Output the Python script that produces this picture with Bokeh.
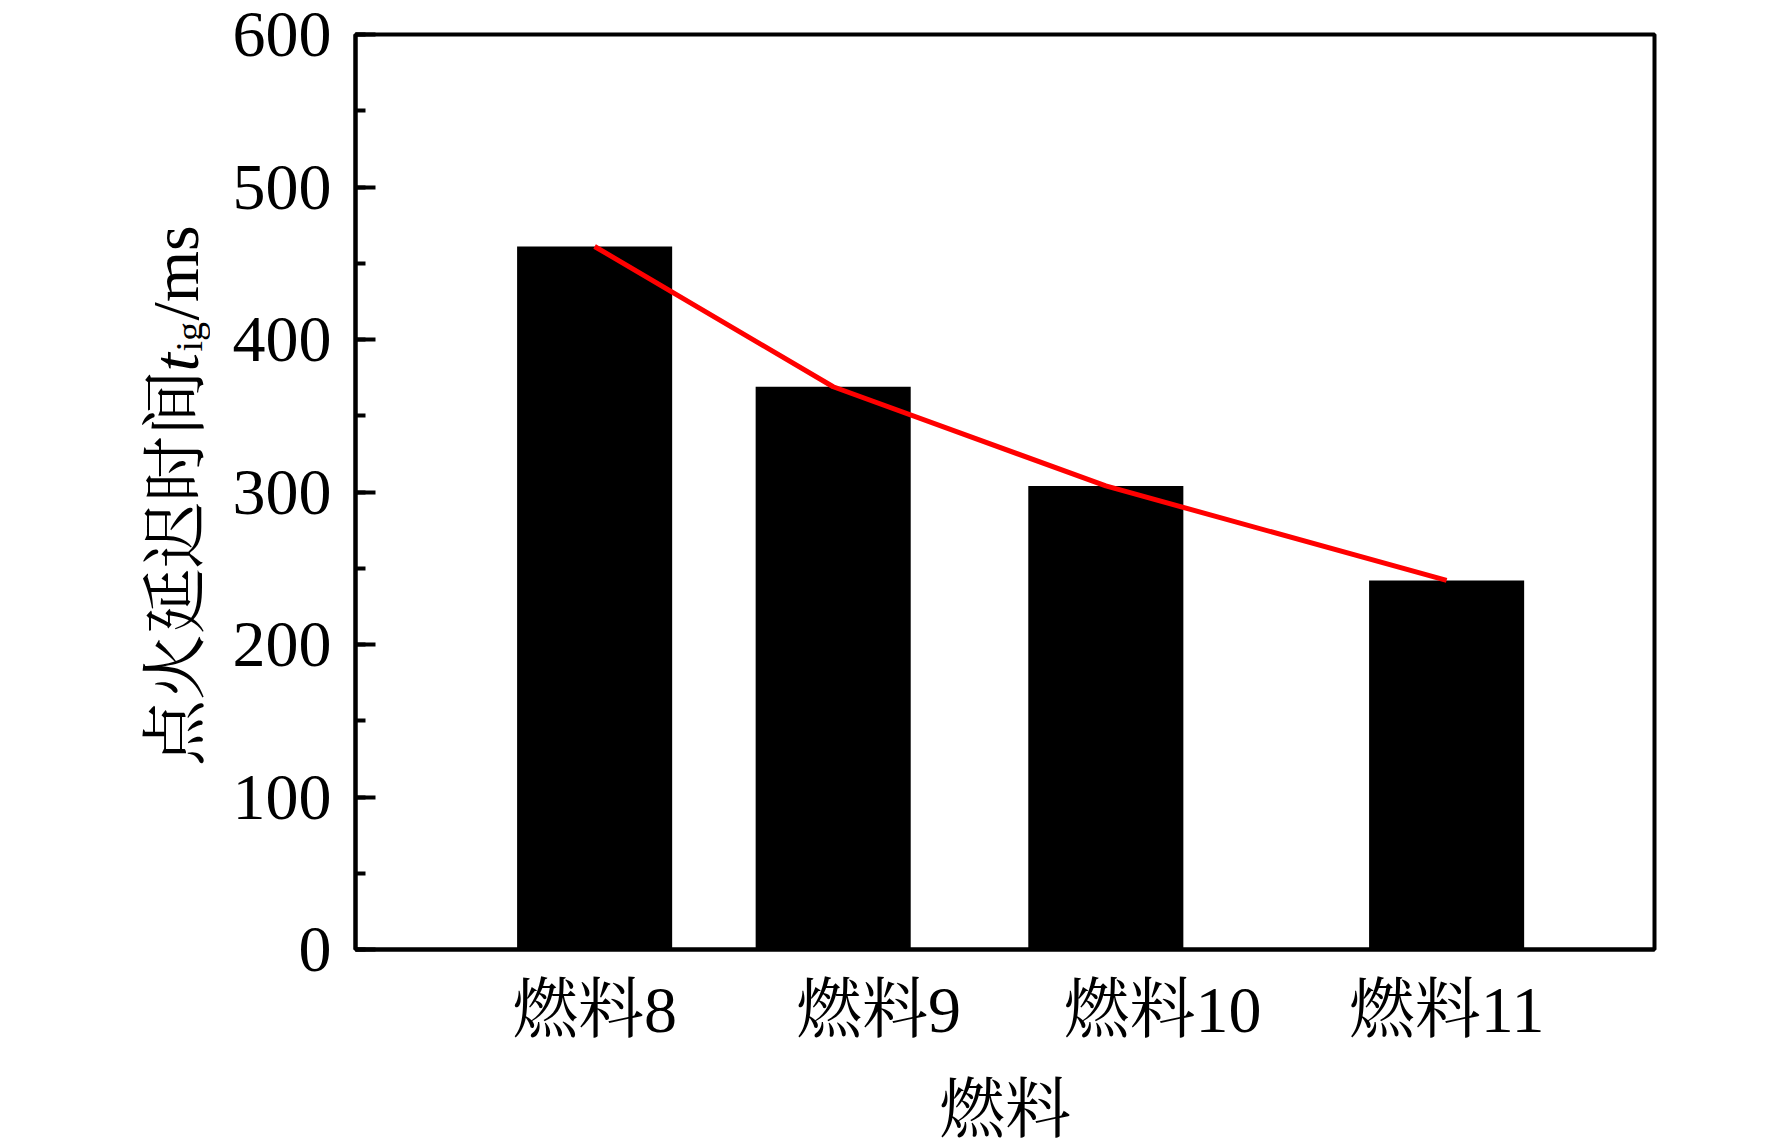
import math
from bokeh.plotting import figure
from bokeh.layouts import row
from bokeh.models import Range1d, FixedTicker
from bokeh.core.properties import value
from bokeh.embed import file_html
from bokeh.resources import INLINE

# ---- data ----
fuels = ["燃料8", "燃料9", "燃料10", "燃料11"]
x_values = [1.0, 1.84, 2.8, 4.0]          # x value of each bar / line point
ignition_delay = [461, 369, 304, 242]      # t_ig, ms
y_ticks = [0, 100, 200, 300, 400, 500, 600]

LATIN = "Liberation Serif"
MIXED = "Liberation Serif, Noto Serif CJK SC, Noto Sans CJK SC"
FS = "66px"

H = 1148
LW = 210          # width of the strip holding the rotated y-axis title
MW = 1546         # width of the main chart
TOP, BOTTOM = 34, 196

# ---------------- main chart ----------------
p = figure(width=MW, height=H, output_backend="svg", toolbar_location=None,
           x_range=Range1d(0.158, 4.732), y_range=Range1d(0, 600),
           min_border_left=145, min_border_right=102,
           min_border_top=TOP, min_border_bottom=BOTTOM)

p.xgrid.visible = False
p.ygrid.visible = False
p.outline_line_color = "black"
p.outline_line_width = 4
p.background_fill_color = "white"
p.border_fill_color = "white"

p.vbar(x=x_values, top=ignition_delay, width=0.546, fill_color="black", line_color=None)
p.line(x_values, ignition_delay, line_color="red", line_width=5)

# x axis
xa = p.xaxis[0]
xa.ticker = FixedTicker(ticks=list(range(1, len(fuels) + 1)))
xa.major_label_overrides = {i + 1: f for i, f in enumerate(fuels)}
xa.major_tick_in = 0
xa.major_tick_out = 0
xa.minor_tick_in = 0
xa.minor_tick_out = 0
xa.axis_line_width = 4
xa.axis_line_color = "black"
xa.major_label_text_font = MIXED
xa.major_label_text_font_size = FS
xa.major_label_text_color = "black"
xa.major_label_standoff = 23
xa.axis_label = "燃料"
xa.axis_label_text_font = MIXED
xa.axis_label_text_font_size = FS
xa.axis_label_text_font_style = "normal"
xa.axis_label_text_color = "black"
xa.axis_label_standoff = 24

# y axis
ya = p.yaxis[0]
ya.ticker = FixedTicker(ticks=y_ticks, minor_ticks=list(range(0, 601, 50)))
ya.major_tick_in = 20
ya.major_tick_out = 0
ya.minor_tick_in = 10
ya.minor_tick_out = 0
ya.major_tick_line_width = 4
ya.minor_tick_line_width = 4
ya.major_tick_line_color = "black"
ya.minor_tick_line_color = "black"
ya.axis_line_width = 4
ya.axis_line_color = "black"
ya.major_label_text_font = LATIN
ya.major_label_text_font_size = FS
ya.major_label_text_color = "black"
ya.major_label_standoff = 24

# ---------------- rotated y-axis title strip ----------------
# its frame is aligned with the chart's frame; y runs in page pixels (down = larger)
q = figure(width=LW, height=H, output_backend="svg", toolbar_location=None,
           x_range=Range1d(0, LW), y_range=Range1d(H - BOTTOM, TOP),
           x_axis_type=None, y_axis_type=None,
           min_border_left=0, min_border_right=0,
           min_border_top=TOP, min_border_bottom=BOTTOM)
q.outline_line_color = None
q.background_fill_color = "white"
q.border_fill_color = "white"

def part(text, x, y, size, font, style="normal"):
    q.text(x=[x], y=[y], text=[text], angle=math.pi / 2,
           text_font=value(font), text_font_size=value(size),
           text_font_style=style, text_align="left",
           text_baseline="alphabetic", text_color="black")

part("点火延迟时间", 175, 768, FS, MIXED)
part("t", 175, 372, FS, LATIN, "italic")
part("ig", 188, 352, "38px", LATIN)
part("/ms", 175, 321, FS, LATIN)

layout = row(q, p)
open("out.html", "w").write(file_html(layout, INLINE))
